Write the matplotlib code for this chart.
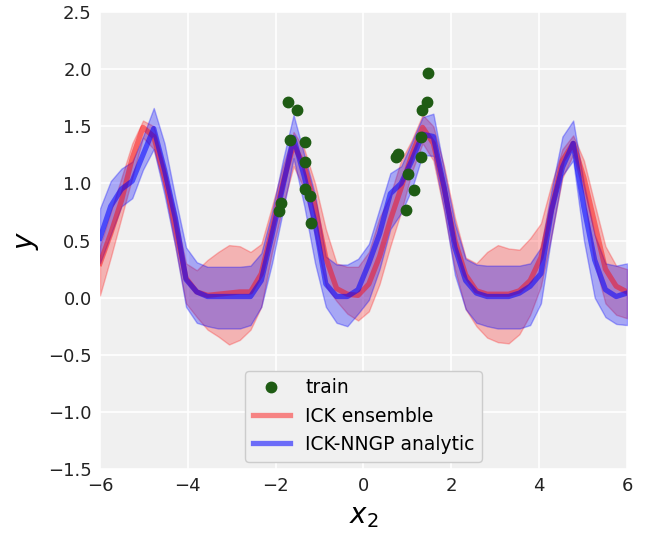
import numpy as np
import matplotlib.pyplot as plt

# evaluation grid for the predictive curves
x_grid = np.linspace(-6, 6, 50)

# ICK ensemble: mean and band
ens_mean = [0.30, 0.56, 0.85, 1.22, 1.49, 1.41, 1.06, 0.62, 0.17, 0.05,
            0.02, 0.03, 0.04, 0.05, 0.05, 0.21, 0.60, 1.00, 1.34, 1.15,
            0.80, 0.35, 0.08, 0.03, 0.02, 0.12, 0.36, 0.68, 0.96, 1.25,
            1.49, 1.35, 0.95, 0.50, 0.20, 0.06, 0.03, 0.03, 0.03, 0.06,
            0.15, 0.35, 0.78, 1.20, 1.35, 1.05, 0.65, 0.25, 0.10, 0.05]
ens_upper = [0.45, 0.75, 1.05, 1.35, 1.55, 1.50, 1.15, 0.75, 0.30, 0.24,
             0.33, 0.40, 0.46, 0.45, 0.40, 0.47, 0.80, 1.15, 1.45, 1.30,
             1.00, 0.60, 0.30, 0.27, 0.27, 0.40, 0.70, 0.90, 1.20, 1.38,
             1.60, 1.50, 1.15, 0.70, 0.35, 0.30, 0.40, 0.46, 0.43, 0.42,
             0.52, 0.65, 1.00, 1.30, 1.42, 1.20, 0.82, 0.45, 0.28, 0.25]
ens_lower = [0.02, 0.35, 0.70, 1.05, 1.40, 1.30, 0.95, 0.45, -0.05, -0.17,
             -0.28, -0.34, -0.41, -0.37, -0.28, -0.08, 0.40, 0.80, 1.15, 0.95,
             0.55, 0.10, -0.03, -0.14, -0.20, -0.12, 0.12, 0.45, 0.75, 1.10,
             1.35, 1.20, 0.75, 0.25, -0.10, -0.25, -0.35, -0.39, -0.40, -0.32,
             -0.15, 0.10, 0.55, 1.05, 1.25, 0.90, 0.30, -0.05, -0.15, -0.18]

# ICK-NNGP analytic: mean and band
nngp_mean = [0.52, 0.80, 0.95, 1.02, 1.25, 1.48, 1.12, 0.70, 0.16, 0.05,
             0.01, 0.01, 0.01, 0.01, 0.01, 0.15, 0.55, 0.97, 1.40, 1.06,
             0.65, 0.12, 0.01, 0.01, 0.07, 0.30, 0.56, 0.91, 1.00, 1.20,
             1.43, 1.41, 0.97, 0.44, 0.15, 0.04, 0.01, 0.01, 0.01, 0.04,
             0.10, 0.21, 0.77, 1.14, 1.35, 0.79, 0.33, 0.07, 0.01, 0.04]
nngp_upper = [0.78, 1.02, 1.13, 1.19, 1.41, 1.66, 1.35, 0.88, 0.44, 0.31,
              0.27, 0.27, 0.27, 0.27, 0.28, 0.39, 0.75, 1.20, 1.60, 1.25,
              0.90, 0.36, 0.29, 0.29, 0.34, 0.47, 0.78, 1.09, 1.15, 1.36,
              1.58, 1.61, 1.12, 0.65, 0.34, 0.29, 0.28, 0.28, 0.28, 0.28,
              0.30, 0.44, 0.95, 1.41, 1.55, 1.00, 0.55, 0.30, 0.28, 0.30]
nngp_lower = [0.30, 0.55, 0.80, 0.87, 1.12, 1.30, 0.90, 0.45, -0.08, -0.22,
              -0.25, -0.27, -0.27, -0.27, -0.24, -0.08, 0.30, 0.75, 1.22, 0.80,
              0.30, -0.08, -0.22, -0.25, -0.14, -0.02, 0.25, 0.60, 0.74, 0.95,
              1.25, 1.24, 0.77, 0.20, -0.10, -0.22, -0.25, -0.27, -0.27, -0.27,
              -0.24, -0.05, 0.55, 1.07, 1.20, 0.50, 0.00, -0.17, -0.23, -0.24]

# training observations
x_train = [-1.71, -1.51, -1.68, -1.34, -1.33, -1.33, -1.22, -1.20, -1.88, -1.92,
           1.47, 1.45, 1.34, 1.32, 1.32, 0.79, 0.74, 1.02, 1.16, 0.96]
y_train = [1.71, 1.64, 1.38, 1.36, 1.19, 0.95, 0.89, 0.65, 0.83, 0.76,
           1.97, 1.71, 1.64, 1.41, 1.23, 1.26, 1.23, 1.08, 0.94, 0.77]

plt.rcParams["font.family"] = ["DejaVu Sans"]
fig = plt.figure(figsize=(6.45, 5.33), dpi=100)
ax = fig.add_axes([0.155, 0.12, 0.817, 0.8575])
ax.set_facecolor("#f0f0f0")
ax.grid(True, color="white", linewidth=1.2)
ax.set_axisbelow(True)
for s in ax.spines.values():
    s.set_visible(False)

ax.plot(x_train, y_train, "o", color="#1f5c14", markersize=7.5, label="train", zorder=5)

ax.plot(x_grid, ens_mean, color="red", alpha=0.45, linewidth=3.8, label="ICK ensemble")
ax.fill_between(x_grid, ens_lower, ens_upper, color="red", alpha=0.25)

ax.plot(x_grid, nngp_mean, color="blue", alpha=0.55, linewidth=3.8, label="ICK-NNGP analytic")
ax.fill_between(x_grid, nngp_lower, nngp_upper, color="blue", alpha=0.3)

ax.set_xlim(-6, 6)
ax.set_ylim(-1.5, 2.5)
ax.set_xticks([-6, -4, -2, 0, 2, 4, 6])
ax.set_yticks(np.arange(-1.5, 2.51, 0.5))
ax.tick_params(labelsize=13, length=0, pad=6, colors="#222222")
ax.set_xlabel("$x_2$", fontsize=20, labelpad=5)
ax.set_ylabel("$y$", fontsize=20, labelpad=5)

leg = ax.legend(loc="lower center", fontsize=13.5, frameon=True, facecolor="#f0f0f0",
                edgecolor="#cccccc", framealpha=1.0, borderaxespad=0.4)

fig.savefig("out.png", dpi=100)
